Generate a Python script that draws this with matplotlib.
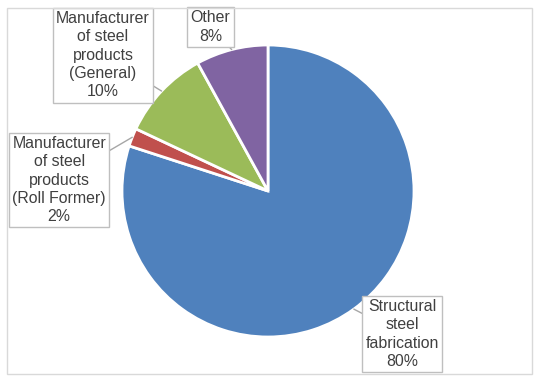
import numpy as np
import matplotlib.pyplot as plt
from matplotlib.patches import Rectangle

labels = ['Structural\nsteel\nfabrication', 'Manufacturer\nof steel\nproducts\n(Roll Former)',
          'Manufacturer\nof steel\nproducts\n(General)', 'Other']
shares = [80, 2, 10, 8]
colors = ['#4F81BD', '#C0504D', '#9BBB59', '#8064A2']
# label centres in pie units (radius = 1)
label_pos = [(0.92, -0.98), (-1.43, 0.075), (-1.13, 0.93), (-0.394, 1.123)]

plt.rcParams['font.family'] = ['Liberation Sans', 'DejaVu Sans']

W, H = 538, 383
fig = plt.figure(figsize=(W / 100, H / 100), dpi=100)
fig.patches.append(Rectangle((7 / W, 9 / H), 525 / W, 366 / H, transform=fig.transFigure,
                             fill=False, edgecolor='#D9D9D9', linewidth=1))

cx, cy, r = 268, 191, 146
ax = fig.add_axes([(cx - r) / W, (H - cy - r) / H, 2 * r / W, 2 * r / H])
wedges, _ = ax.pie(shares, colors=colors, startangle=90, counterclock=False,
                   wedgeprops=dict(edgecolor='white', linewidth=2))
ax.set_xlim(-1, 1)
ax.set_ylim(-1, 1)
ax.set_aspect('equal')
ax.axis('off')

for w, lab, s, (tx, ty) in zip(wedges, labels, shares, label_pos):
    mid = np.deg2rad((w.theta1 + w.theta2) / 2)
    ax.annotate(f'{lab}\n{s}%', xy=(np.cos(mid), np.sin(mid)), xytext=(tx, ty),
                ha='center', va='center', fontsize=11.4, color='#404040', linespacing=1.28,
                annotation_clip=False,
                bbox=dict(boxstyle='square,pad=0.2', facecolor='white', edgecolor='#BFBFBF', linewidth=1),
                arrowprops=dict(arrowstyle='-', color='#A6A6A6', linewidth=1, shrinkA=0, shrinkB=0))

fig.savefig('out.png', dpi=100)
